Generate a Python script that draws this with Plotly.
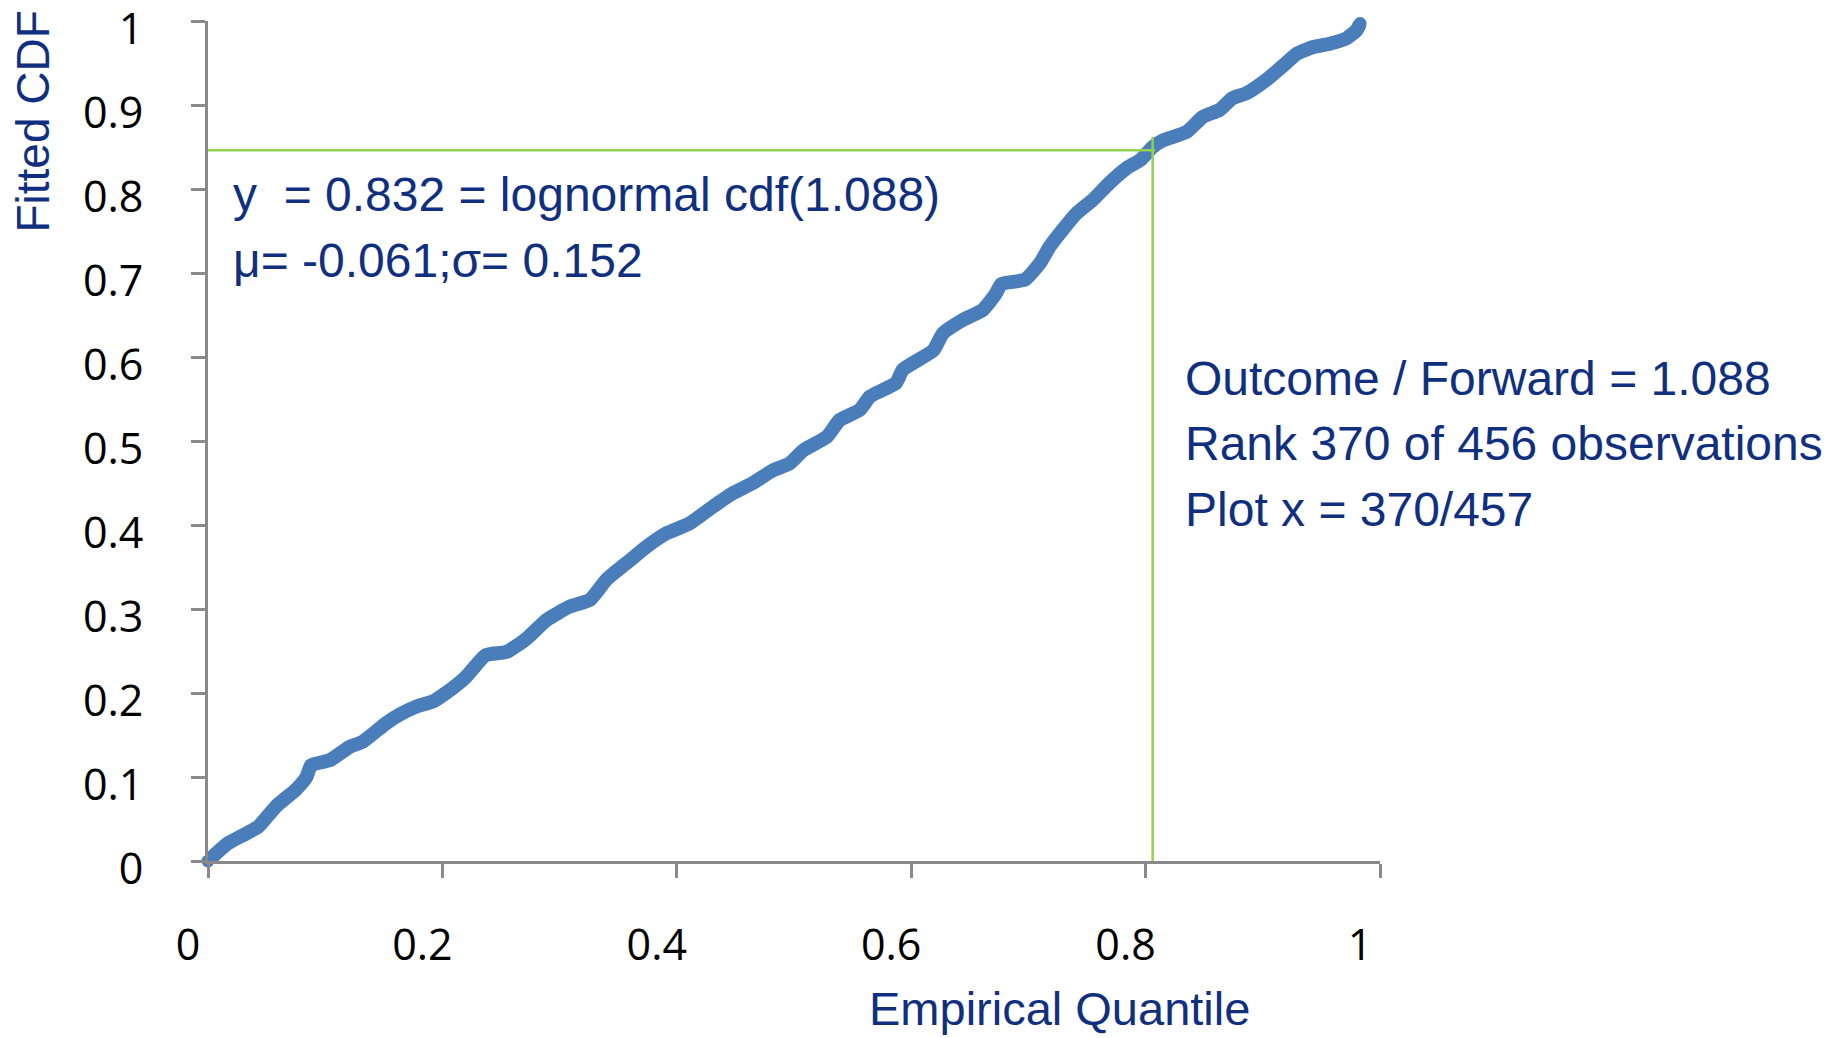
import plotly.graph_objects as go

# Empirical quantile (x) vs fitted lognormal CDF (y)
quantile = [0.000, 0.017, 0.033, 0.043, 0.058, 0.075, 0.084, 0.088, 0.104, 0.121,
            0.132, 0.152, 0.163, 0.178, 0.192, 0.203, 0.220, 0.237, 0.255, 0.272,
            0.289, 0.309, 0.326, 0.340, 0.360, 0.374, 0.391, 0.411, 0.431, 0.448,
            0.465, 0.482, 0.496, 0.508, 0.528, 0.539, 0.556, 0.565, 0.587, 0.593,
            0.619, 0.627, 0.644, 0.661, 0.672, 0.677, 0.697, 0.710, 0.718, 0.729,
            0.741, 0.755, 0.769, 0.784, 0.796, 0.806, 0.815, 0.835, 0.849, 0.863,
            0.874, 0.886, 0.903, 0.920, 0.929, 0.943, 0.957, 0.971, 0.980, 0.983]
fitted_cdf = [0.000, 0.021, 0.033, 0.041, 0.065, 0.085, 0.100, 0.114, 0.120, 0.136,
              0.142, 0.164, 0.174, 0.184, 0.190, 0.200, 0.219, 0.245, 0.249, 0.265,
              0.287, 0.303, 0.311, 0.335, 0.358, 0.374, 0.390, 0.402, 0.422, 0.438,
              0.450, 0.465, 0.473, 0.489, 0.505, 0.525, 0.537, 0.553, 0.569, 0.585,
              0.608, 0.628, 0.644, 0.656, 0.675, 0.687, 0.692, 0.712, 0.731, 0.751,
              0.771, 0.787, 0.807, 0.825, 0.835, 0.850, 0.858, 0.868, 0.886, 0.894,
              0.908, 0.914, 0.930, 0.950, 0.961, 0.969, 0.973, 0.979, 0.989, 0.997]

# Marked observation (guide lines)
marked_x = 0.806
marked_y = 0.846
vline_top = 0.862
hline_start = -0.006

tick_vals = [0, 0.2, 0.4, 0.6, 0.8, 1]
tick_text = ["0", "0.2", "0.4", "0.6", "0.8", "1"]
ytick_vals = [0, 0.1, 0.2, 0.3, 0.4, 0.5, 0.6, 0.7, 0.8, 0.9, 1]
ytick_text = ["0", "0.1", "0.2", "0.3", "0.4", "0.5", "0.6", "0.7", "0.8", "0.9", "1"]

fit_lines = ["y\u00a0 = 0.832 = lognormal cdf(1.088)", "\u03bc= -0.061;\u03c3= 0.152"]
obs_lines = ["Outcome / Forward = 1.088", "Rank 370 of 456 observations", "Plot x = 370/457"]

BLUE = "#4A7EBB"
NAVY = "#10307F"
GREEN = "#92D050"
AXIS = "#898989"
TEXT_FONT = "Liberation Sans, Arial, sans-serif"
TICK_FONT = "Open Sans, Lato, sans-serif"

fig = go.Figure()
fig.add_trace(go.Scatter(
    x=quantile, y=fitted_cdf, mode="lines+markers",
    line=dict(color=BLUE, width=14, shape="spline", smoothing=0.5),
    marker=dict(color=BLUE, size=13),
    cliponaxis=False, showlegend=False, hoverinfo="skip"))

fig.add_shape(type="line", xref="x", yref="y", x0=hline_start, x1=marked_x + 0.002,
              y0=marked_y, y1=marked_y, line=dict(color=GREEN, width=2.5), layer="above")
fig.add_shape(type="line", xref="x", yref="y", x0=marked_x, x1=marked_x,
              y0=0, y1=vline_top, line=dict(color=GREEN, width=2.5), layer="above")

ann = []
fit_y = [0.793, 0.715]
for t, yy in zip(fit_lines, fit_y):
    ann.append(dict(text=t, x=0.0193, y=yy, xref="x", yref="y", xanchor="left",
                    yanchor="middle", showarrow=False,
                    font=dict(family=TEXT_FONT, size=48, color=NAVY)))
obs_y = [0.575, 0.497, 0.419]
for t, yy in zip(obs_lines, obs_y):
    ann.append(dict(text=t, x=0.8316, y=yy, xref="x", yref="y", xanchor="left",
                    yanchor="middle", showarrow=False,
                    font=dict(family=TEXT_FONT, size=48, color=NAVY)))
ann.append(dict(text="Fitted CDF", x=-0.1497, y=0.8798, xref="paper", yref="paper",
                textangle=-90, xanchor="center", yanchor="middle", showarrow=False,
                font=dict(family=TEXT_FONT, size=46, color=NAVY)))
ann.append(dict(text="Empirical Quantile", x=0.7266, y=-0.176, xref="paper", yref="paper",
                xanchor="center", yanchor="middle", showarrow=False,
                font=dict(family=TEXT_FONT, size=47, color=NAVY)))

axis_common = dict(showgrid=False, zeroline=False, showline=True, linecolor=AXIS,
                   linewidth=3, ticks="outside", ticklen=14, tickwidth=3, tickcolor=AXIS,
                   range=[0, 1], automargin=False,
                   tickfont=dict(family=TICK_FONT, size=43, color="black"))

fig.update_layout(
    width=1840, height=1038,
    margin=dict(l=208, r=460, t=21, b=177, autoexpand=False),
    paper_bgcolor="white", plot_bgcolor="white",
    xaxis=dict(**axis_common, tickvals=tick_vals, ticktext=tick_text,
               ticklabelstandoff=30, ticklabelshift=-20),
    yaxis=dict(**axis_common, tickvals=ytick_vals, ticktext=ytick_text,
               ticklabelstandoff=39, ticklabelshift=8, ticklabeloverflow="allow"),
    annotations=ann,
)

fig.write_html("out.html")
